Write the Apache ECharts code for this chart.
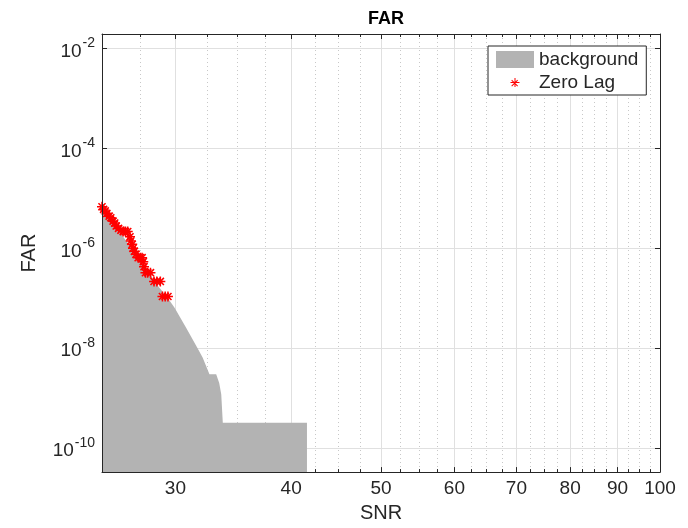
<!DOCTYPE html>
<html>
<head>
<meta charset="utf-8">
<script src="https://cdn.jsdelivr.net/npm/echarts@6/dist/echarts.min.js"></script>
<style>
  html, body { margin: 0; padding: 0; background: #fff; }
  #chart { width: 688px; height: 528px; }
</style>
</head>
<body>
<div id="chart"></div>
<script>
// 坐标轴刻度
var xMajorTicks = [30, 40, 50, 60, 70, 80, 90, 100];
var xMinorTicks = [27.5, 32.5, 35, 37.5, 42.5, 45, 47.5, 52.5, 55, 57.5, 62.5, 65, 67.5,
  72.5, 75, 77.5, 82.5, 85, 87.5, 92.5, 95, 97.5];
var yTicks = [1e-10, 1e-8, 1e-6, 1e-4, 1e-2];

// background FAR 曲线 [SNR, FAR]
var backgroundSnr = [25.0, 26.0, 27.0, 28.0, 28.7, 29.4, 29.95, 30.8, 31.7, 32.1, 32.65, 33.2, 33.45, 33.62, 33.75, 41.6];
var backgroundFar = [6.3e-6, 2.4e-6, 9.2e-7, 3.6e-7, 1.8e-7, 1.05e-7, 6.4e-8, 2.6e-8, 1.0e-8, 6.5e-9, 3.0e-9, 3.0e-9, 2.0e-9, 1.2e-9, 3.2e-10, 3.2e-10];

// zero lag 事件
var zeroLagSnr = [25.0, 25.1, 25.2, 25.3, 25.45, 25.55, 25.7, 25.8, 25.9, 26.05, 26.2, 26.35, 26.5, 26.65,
  26.8, 26.85, 26.95, 27.0, 27.1, 27.2, 27.35, 27.5, 27.62, 27.7, 27.75, 27.85, 28.0, 28.2,
  28.45, 28.65, 28.9, 29.05, 29.25, 29.45];
var zeroLagFar = [6.8e-6, 6.0e-6, 5.6e-6, 5.0e-6, 4.4e-6, 4.1e-6, 3.5e-6, 3.2e-6, 2.8e-6, 2.5e-6, 2.3e-6, 2.17e-6, 2.17e-6, 2.17e-6,
  1.7e-6, 1.4e-6, 1.2e-6, 1.0e-6, 8.7e-7, 7.6e-7, 6.5e-7, 6.5e-7, 6.5e-7, 5.4e-7, 4.3e-7, 3.25e-7, 3.25e-7, 3.25e-7,
  2.17e-7, 2.17e-7, 2.17e-7, 1.085e-7, 1.085e-7, 1.085e-7];

var FONT = 'Liberation Sans';
var AXIS_COLOR = '#262626';
var X_MIN = 25, X_MAX = 100;
var Y_MIN = 3.3e-11, Y_MAX = 0.0196;

// matlab 风格的 * 号
var STAR = 'path://M4.25 0L5.75 0L5.75 10L4.25 10Z M0 4.25L10 4.25L10 5.75L0 5.75Z ' +
  'M2 0.9L9.1 8L8 9.1L0.9 2Z M8 0.9L9.1 2L2 9.1L0.9 8Z';
// 图例里的 * 号，外框撑到 38x17
var STAR_LEGEND = 'path://M0 0M38 17 M18.5 4L19.5 4L19.5 13L18.5 13Z M14.5 8L23.5 8L23.5 9L14.5 9Z ' +
  'M16 5.8L22 11.8L21.3 12.5L15.3 6.5Z M21.3 5.8L22 6.5L16 12.5L15.3 11.8Z';

function zip(a, b) {
  return a.map(function (v, i) { return [v, b[i]]; });
}

function xAxisBase(extra) {
  var base = {
    type: 'log',
    logBase: 10,
    min: X_MIN,
    max: X_MAX,
    axisLine: { show: false, onZero: false },
    axisTick: { show: false },
    axisLabel: { show: false },
    splitLine: { show: false }
  };
  return Object.assign(base, extra);
}

function yAxisBase(extra) {
  var base = {
    type: 'log',
    logBase: 10,
    min: Y_MIN,
    max: Y_MAX,
    axisLine: { show: false, onZero: false },
    axisTick: { show: false },
    axisLabel: { show: false },
    splitLine: { show: false }
  };
  return Object.assign(base, extra);
}

var chart = echarts.init(document.getElementById('chart'), null, { renderer: 'canvas' });

var option = {
  backgroundColor: '#fff',
  animation: false,
  title: {
    text: 'FAR',
    left: 381,
    textAlign: 'center',
    top: 5,
    textStyle: { fontFamily: FONT, fontSize: 18, fontWeight: 'bold', color: '#000' }
  },
  legend: {
    left: 488,
    top: 46,
    orient: 'vertical',
    padding: [4, 8, 3, 8],
    itemGap: 4,
    itemWidth: 38,
    itemHeight: 17,
    borderColor: AXIS_COLOR,
    borderWidth: 1,
    backgroundColor: '#fff',
    textStyle: { fontFamily: FONT, fontSize: 19, color: AXIS_COLOR },
    data: [
      { name: 'background', icon: 'rect', itemStyle: { color: '#b3b3b3' } },
      { name: 'Zero Lag', icon: STAR_LEGEND, itemStyle: { color: '#ff0000' } }
    ]
  },
  grid: { left: 102, right: 28, top: 34, bottom: 53, containLabel: false },
  xAxis: [
    // 主刻度 + 标签 + 网格
    xAxisBase({
      position: 'bottom',
      name: 'SNR',
      nameLocation: 'middle',
      nameGap: 30,
      nameTextStyle: { fontFamily: FONT, fontSize: 20, color: AXIS_COLOR },
      axisTick: { show: true, inside: true, length: 5, customValues: xMajorTicks, lineStyle: { color: AXIS_COLOR } },
      axisLabel: {
        show: true, customValues: xMajorTicks, margin: 7,
        fontFamily: FONT, fontSize: 19, color: AXIS_COLOR,
        formatter: function (v) { return String(Math.round(v)); }
      },
      splitLine: { show: true, lineStyle: { color: '#e0e0e0', width: 1 } }
    }),
    // 次刻度 + 点状网格
    xAxisBase({
      position: 'bottom',
      axisTick: { show: true, inside: true, length: 3, customValues: xMinorTicks, lineStyle: { color: AXIS_COLOR } },
      splitLine: { show: true, lineStyle: { color: '#c8c8c8', width: 1, type: [1, 3] } }
    }),
    xAxisBase({
      position: 'top',
      axisLine: { show: true, onZero: false, lineStyle: { color: AXIS_COLOR, width: 1 } },
      axisTick: { show: true, inside: true, length: 5, customValues: xMajorTicks, lineStyle: { color: AXIS_COLOR } }
    }),
    xAxisBase({
      position: 'top',
      axisTick: { show: true, inside: true, length: 3, customValues: xMinorTicks, lineStyle: { color: AXIS_COLOR } }
    }),
    // 压在灰色面积上面的底边
    xAxisBase({
      position: 'bottom',
      z: 10,
      axisLine: { show: true, onZero: false, lineStyle: { color: AXIS_COLOR, width: 1 } }
    })
  ],
  yAxis: [
    yAxisBase({
      position: 'left',
      name: 'FAR',
      nameLocation: 'middle',
      nameGap: 63,
      nameRotate: 90,
      nameTextStyle: { fontFamily: FONT, fontSize: 20, color: AXIS_COLOR },
      axisTick: { show: true, inside: true, length: 5, customValues: yTicks, lineStyle: { color: AXIS_COLOR } },
      axisLabel: {
        show: true, customValues: yTicks, margin: 7,
        formatter: function (v) {
          return '{b|10}{s|' + Math.round(Math.log10(v)) + '}';
        },
        rich: {
          b: { fontFamily: FONT, fontSize: 19, color: AXIS_COLOR, padding: [6, 0, 0, 0] },
          s: { fontFamily: FONT, fontSize: 14, color: AXIS_COLOR, padding: [0, 0, 10, 1] }
        }
      },
      splitLine: { show: true, lineStyle: { color: '#e0e0e0', width: 1 } }
    }),
    yAxisBase({
      position: 'right',
      axisLine: { show: true, onZero: false, lineStyle: { color: AXIS_COLOR, width: 1 } },
      axisTick: { show: true, inside: true, length: 5, customValues: yTicks, lineStyle: { color: AXIS_COLOR } }
    }),
    yAxisBase({
      position: 'left',
      z: 10,
      axisLine: { show: true, onZero: false, lineStyle: { color: AXIS_COLOR, width: 1 } }
    })
  ],
  series: [
    {
      name: 'background',
      type: 'line',
      xAxisIndex: 0,
      yAxisIndex: 0,
      data: zip(backgroundSnr, backgroundFar),
      showSymbol: false,
      symbol: 'none',
      lineStyle: { width: 0, color: '#b3b3b3' },
      itemStyle: { color: '#b3b3b3' },
      areaStyle: { color: '#b3b3b3', opacity: 1, origin: 'start' },
      z: 2
    },
    {
      name: 'Zero Lag',
      type: 'scatter',
      xAxisIndex: 0,
      yAxisIndex: 0,
      data: zip(zeroLagSnr, zeroLagFar),
      symbol: STAR,
      symbolSize: 10,
      itemStyle: { color: '#ff0000', opacity: 1 },
      z: 3
    }
  ]
};

chart.setOption(option);
</script>
</body>
</html>
